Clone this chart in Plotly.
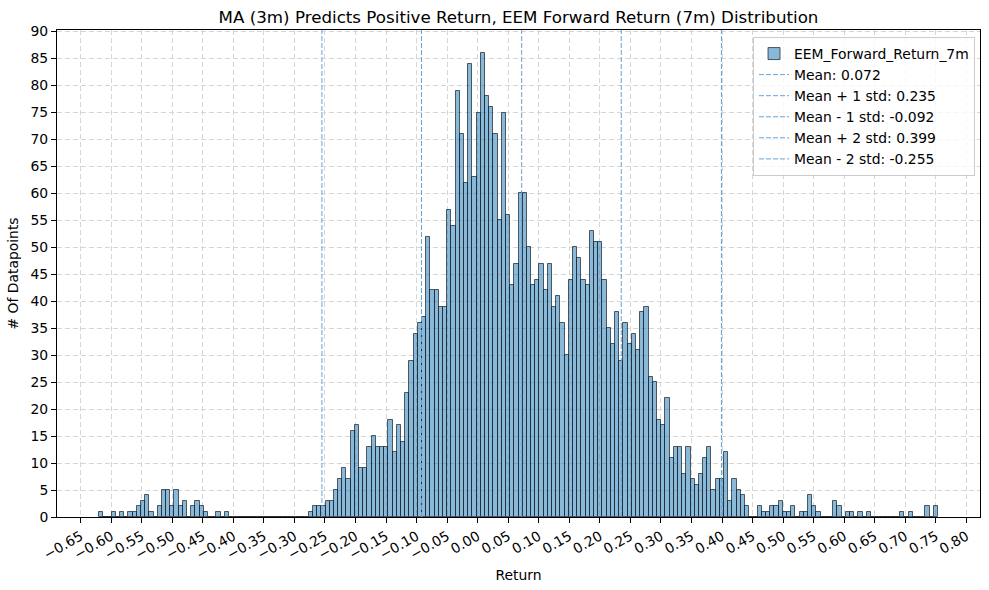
import numpy as np
import plotly.graph_objects as go

# ---- data ----
bin_min = -0.620
bin_max = 0.7536
counts = [
    1, 0, 0, 1, 0, 1, 0, 1, 1, 2,
    3, 4, 1, 0, 2, 5, 5, 2, 5, 2,
    3, 0, 2, 3, 2, 1, 0, 0, 1, 0,
    1, 0, 0, 0, 0, 0, 0, 0, 0, 0,
    0, 0, 0, 0, 0, 0, 0, 0, 0, 0,
    1, 2, 2, 2, 3, 3, 5, 7, 9, 7,
    16, 17, 9, 9, 13, 15, 13, 13, 13, 18,
    12, 17, 14, 23, 29, 34, 36, 37, 52, 42,
    42, 39, 39, 57, 54, 79, 71, 62, 84, 63,
    75, 86, 78, 76, 71, 55, 75, 56, 43, 47,
    60, 60, 50, 43, 44, 47, 42, 47, 39, 41,
    36, 30, 44, 50, 48, 44, 43, 53, 51, 51,
    44, 35, 32, 38, 29, 36, 32, 34, 31, 38,
    39, 26, 25, 18, 17, 22, 11, 13, 13, 8,
    13, 7, 6, 8, 11, 13, 5, 7, 7, 12,
    3, 7, 5, 4, 2, 0, 0, 2, 1, 1,
    2, 2, 3, 1, 1, 2, 0, 1, 1, 4,
    2, 1, 0, 0, 0, 3, 2, 0, 1, 1,
    0, 1, 0, 1, 0, 0, 0, 0, 0, 0,
    0, 1, 0, 1, 0, 0, 0, 2, 0, 2,
]
series_name = "EEM_Forward_Return_7m"
stat_labels = ["Mean: 0.072", "Mean + 1 std: 0.235", "Mean - 1 std: -0.092",
               "Mean + 2 std: 0.399", "Mean - 2 std: -0.255"]
stat_values = [0.072, 0.235, -0.092, 0.399, -0.255]
xtick_vals = [round(-0.65 + 0.05 * i, 2) for i in range(30)]
xtick_text = [f"{v:.2f}".replace("-", "\u2212") for v in xtick_vals]
ytick_vals = list(range(0, 91, 5))
title_text = "MA (3m) Predicts Positive Return, EEM Forward Return (7m) Distribution"
xlabel = "Return"
ylabel = "# Of Datapoints"

# ---- geometry derived from data ----
edges = np.linspace(bin_min, bin_max, len(counts) + 1)
centers = (edges[:-1] + edges[1:]) / 2
binw = edges[1] - edges[0]
span = bin_max - bin_min
xr = [bin_min - 0.05 * span, bin_max + 0.05 * span]
ytop = max(counts) * 1.05

FONT = "DejaVu Sans"
LINE_COLOR = "rgb(100,163,216)"
GRID = "rgb(214,214,214)"

fig = go.Figure()
fig.add_trace(go.Bar(
    x=centers, y=counts, width=binw, name=series_name,
    marker=dict(color="rgba(31,119,180,0.52)",
                line=dict(color="rgba(20,30,40,0.7)", width=1)),
))
for lab, v in zip(stat_labels, stat_values):
    fig.add_trace(go.Scatter(
        x=[v, v], y=[0, ytop], mode="lines", name=lab,
        line=dict(color=LINE_COLOR, width=1, dash="5px,2px"),
    ))

fig.update_layout(
    width=989, height=590,
    margin=dict(l=57, r=9, t=30, b=73),
    paper_bgcolor="white", plot_bgcolor="white",
    font=dict(family=FONT, size=13.9, color="black"),
    bargap=0,
    showlegend=True,
    title=dict(text=title_text, x=0.5, xref="paper", xanchor="center",
               y=1 - 17 / 590, yref="container", yanchor="middle",
               font=dict(size=16.7, family=FONT)),
    legend=dict(x=0.9946, xanchor="right", y=0.9856, yanchor="top",
                bgcolor="rgba(255,255,255,0.8)", bordercolor="#cccccc",
                borderwidth=1, font=dict(size=13.9, family=FONT),
                tracegroupgap=0, itemwidth=30),
)
fig.update_xaxes(
    range=xr, tickmode="array", tickvals=xtick_vals, ticktext=xtick_text,
    tickangle=-30, ticks="outside", ticklen=5, tickcolor="black",
    showline=True, mirror=True, linecolor="black", linewidth=1,
    showgrid=True, gridcolor=GRID, griddash="5px,3px",
    zeroline=False, tickfont=dict(size=13.9),
    title=dict(text=xlabel, font=dict(size=13.9), standoff=8),
)
fig.update_yaxes(
    range=[0, ytop], tickmode="array", tickvals=ytick_vals,
    ticks="outside", ticklen=5, tickcolor="black",
    showline=True, mirror=True, linecolor="black", linewidth=1,
    showgrid=True, gridcolor=GRID, griddash="5px,3px",
    zeroline=False, tickfont=dict(size=13.9),
    title=dict(text=ylabel, font=dict(size=13.9), standoff=8),
)
fig.write_html("out.html")
